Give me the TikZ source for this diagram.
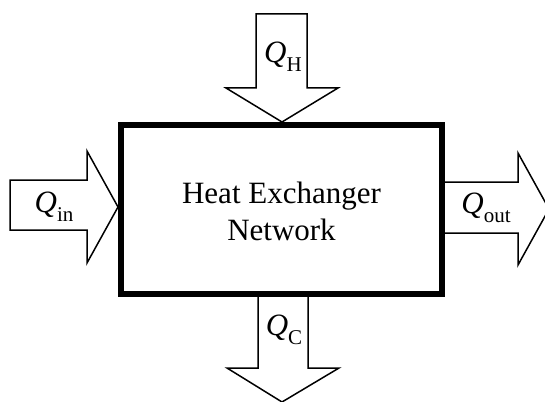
\documentclass[tikz,border=0pt]{standalone}
\usepackage{fontspec}
\setmainfont{Liberation Serif}
\newcommand{\qlab}[1]{{\itshape Q}\raisebox{-0.28em}{\fontsize{21}{21}\selectfont #1}}
\begin{document}
\begin{tikzpicture}[x=1pt,y=-1pt,
  flow/.style={draw=black,line width=1.5pt,fill=white,line join=miter},
  hbox/.style={draw=black,line width=5.5pt,fill=white,minimum width=321pt,minimum height=169pt,inner sep=0pt},
  lab/.style={font=\fontsize{31}{37}\selectfont,align=center,inner sep=0pt}]
\useasboundingbox (0,0) rectangle (545,401);
% top arrow
\draw[flow] (256,14) -- (307,14) -- (307,88) -- (338,88) -- (282,122) -- (226,88) -- (256,88) -- cycle;
% left arrow
\draw[flow] (10,180) -- (87,180) -- (87,151) -- (118,207) -- (87,263) -- (87,230) -- (10,230) -- cycle;
% right arrow
\begin{scope}
\clip (0,0) rectangle (545,401);
\draw[flow] (442,182) -- (518,182) -- (518,153) -- (549,209) -- (518,265) -- (518,233) -- (442,233) -- cycle;
\end{scope}
% bottom arrow
\draw[flow] (258,294) -- (308,294) -- (308,368) -- (339,368) -- (282,402) -- (227,368) -- (258,368) -- cycle;
% box
\node[hbox] (hen) at (281.5,209.5) {};
\node[lab] (hentext) at (281.5,211) {Heat Exchanger\\Network};
% labels
\node[lab] (qh) at (283,57) {\qlab{H}};
\node[lab] (qin) at (54,207) {\qlab{in}};
\node[lab] (qout) at (486,208) {\qlab{out}};
\node[lab] (qc) at (284,330) {\qlab{C}};
\end{tikzpicture}
\end{document}
